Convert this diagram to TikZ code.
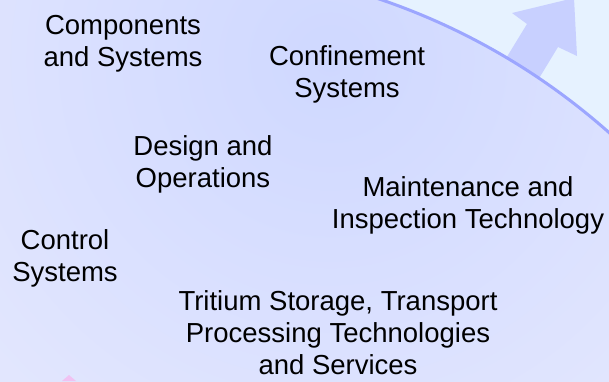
\documentclass[tikz,border=0pt]{standalone}
\usepackage{fontspec}
\setmainfont{Liberation Sans}
\usepackage{tikz}
\usetikzlibrary{positioning,calc}
\definecolor{bgblue}{HTML}{E6F2FF}
\definecolor{ringfill}{HTML}{CFD8FF}
\definecolor{ringpale}{HTML}{EAECFE}
\definecolor{ringline}{HTML}{9CA6FF}
\definecolor{arrowblue}{HTML}{C8D0FF}
\definecolor{arrowpink}{HTML}{F0C2F2}
\newcommand{\lnode}[3]{\node [lbl] (#1) at (#2) {#3}}

\begin{document}
\begin{tikzpicture}[x=1pt,y=-1pt,
  lbl/.style={align=center, font=\fontsize{27.5}{32}\selectfont, inner sep=0pt}]

\useasboundingbox (0,0) rectangle (609,381);
\fill[bgblue] (0,0) rectangle (609,381);

% arrow leaving the ring
\fill[arrowblue] (505,60) -- (527,24) -- (512,13) -- (574,-2) -- (577,56) -- (558,47) -- (538,80) -- cycle;

% the ring
\begin{scope}
\clip (165,633) circle (669pt);
\shade[inner color=ringfill, outer color=ringpale] (330,60) circle (640pt);
\end{scope}
\draw[ringline, line width=3pt] (165,633) circle (669pt);

% tip of the next arrow
\fill[arrowpink] (69,375) -- (76,381) -- (62,381) -- cycle;

\lnode{COMP}{123,44}{Components\\and Systems};
\lnode{CONF}{347,74}{Confinement\\Systems};
\lnode{DES}{203,164}{Design and\\Operations};
\lnode{MAINT}{468,205}{Maintenance and\\Inspection Technology};
\lnode{CTRL}{65,258}{Control\\Systems};
\lnode{TRIT}{338,333}{Tritium Storage, Transport\\Processing Technologies\\and Services};

\end{tikzpicture}
\end{document}
